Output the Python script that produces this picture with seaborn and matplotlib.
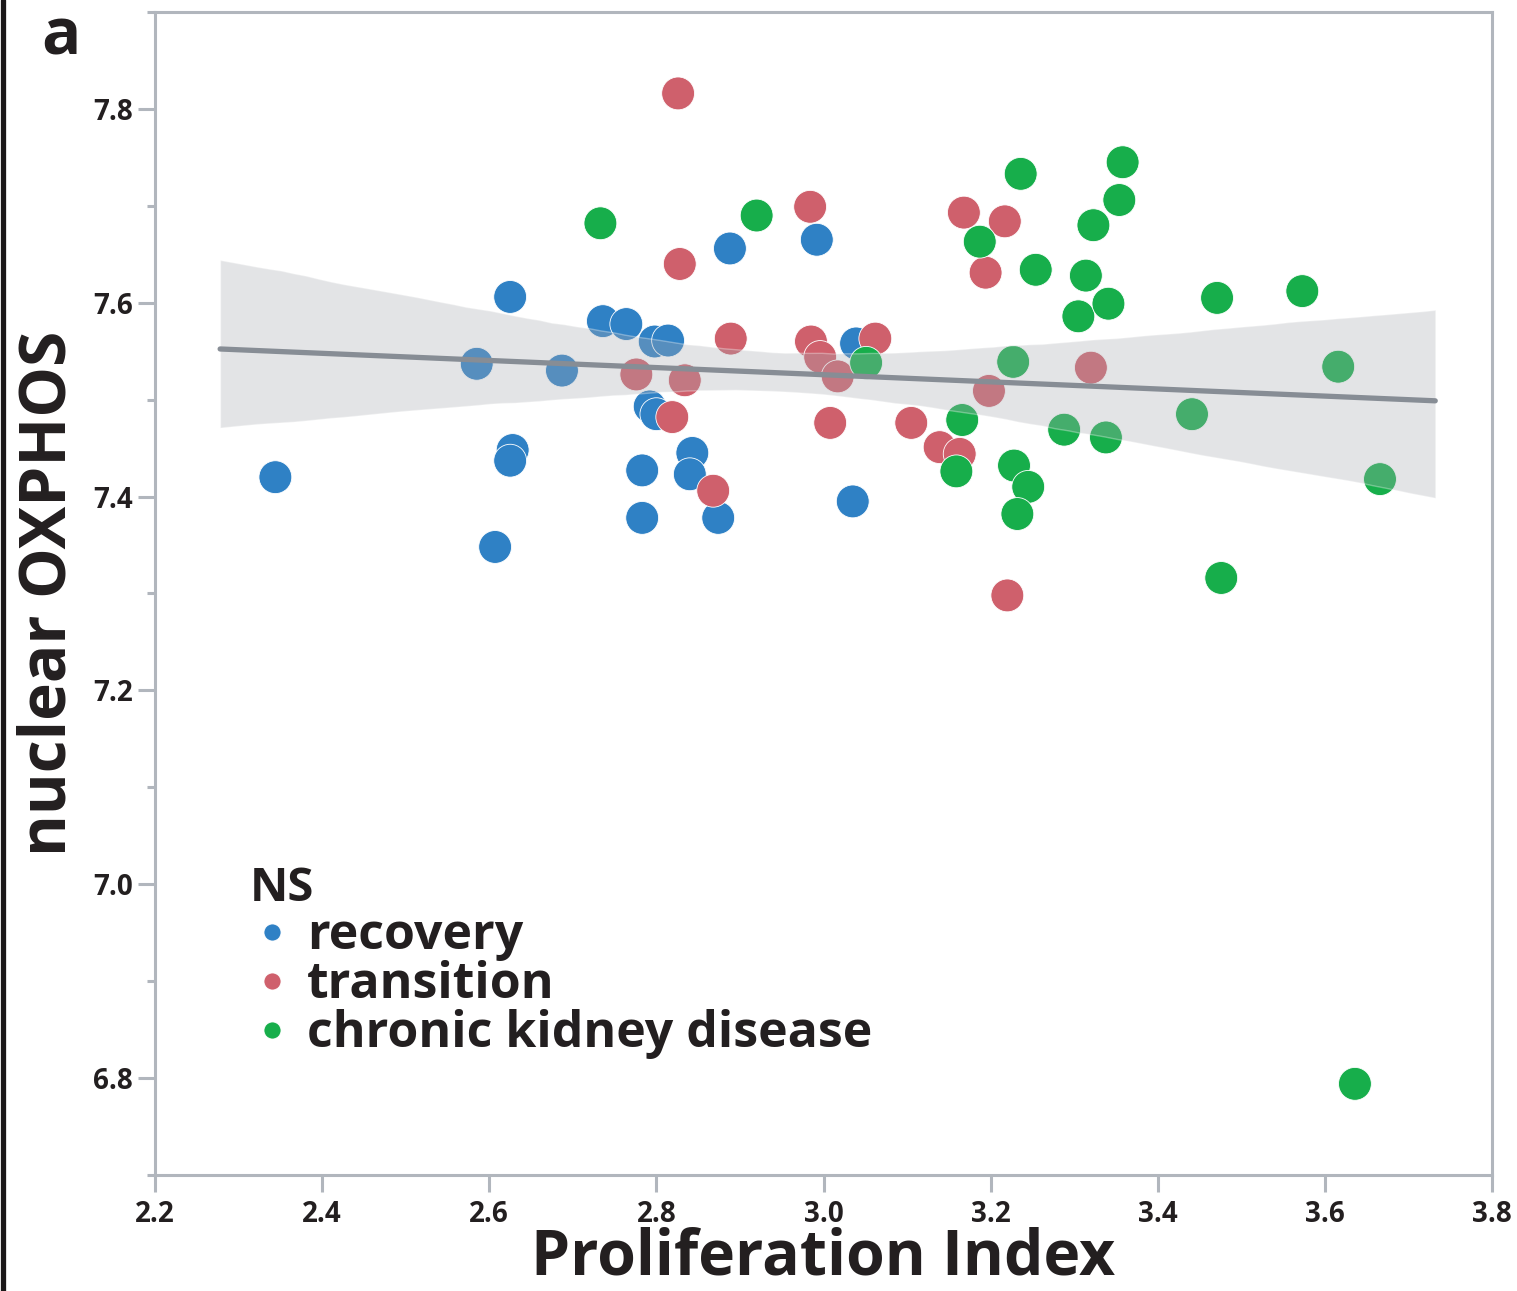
"""Nuclear OXPHOS vs proliferation index, coloured by NS group."""

import matplotlib.pyplot as plt
import pandas as pd
import seaborn as sns
from matplotlib.lines import Line2D
from matplotlib.ticker import MultipleLocator

recovery_x = [2.344, 2.607, 2.625, 2.628, 2.625, 2.585, 2.687, 2.736, 2.764, 2.798, 2.814,
              2.792, 2.800, 2.783, 2.783, 2.843, 2.840, 2.874, 2.888, 2.992, 3.039, 3.035]
recovery_y = [7.420, 7.348, 7.606, 7.448, 7.437, 7.537, 7.530, 7.581, 7.578, 7.560, 7.561,
              7.493, 7.485, 7.427, 7.378, 7.445, 7.423, 7.378, 7.656, 7.665, 7.558, 7.395]

transition_x = [2.826, 2.828, 2.889, 2.776, 2.834, 2.819, 2.868, 2.984, 2.985, 2.996, 3.017,
                3.008, 3.062, 3.105, 3.139, 3.163, 3.168, 3.217, 3.194, 3.198, 3.220, 3.320]
transition_y = [7.816, 7.640, 7.563, 7.526, 7.520, 7.482, 7.406, 7.699, 7.560, 7.544, 7.524,
                7.476, 7.563, 7.476, 7.451, 7.444, 7.693, 7.684, 7.631, 7.509, 7.298, 7.533]

ckd_x = [2.733, 2.920, 3.051, 3.166, 3.159, 3.187, 3.236, 3.227, 3.228, 3.245, 3.232, 3.254,
         3.288, 3.305, 3.314, 3.323, 3.341, 3.338, 3.354, 3.358, 3.441, 3.471, 3.476, 3.573,
         3.616, 3.666, 3.636]
ckd_y = [7.682, 7.690, 7.538, 7.479, 7.426, 7.663, 7.733, 7.539, 7.432, 7.410, 7.382, 7.634,
         7.469, 7.586, 7.628, 7.680, 7.599, 7.461, 7.706, 7.745, 7.485, 7.605, 7.316, 7.612,
         7.534, 7.418, 6.794]

groups = ["recovery", "transition", "chronic kidney disease"]
palette = {"recovery": "#2f81c5", "transition": "#cf606c", "chronic kidney disease": "#17ae4b"}

TEXT = "#231f20"
SPINE = "#b1b6bd"

df = pd.concat([
    pd.DataFrame({"x": recovery_x, "y": recovery_y, "NS": groups[0]}),
    pd.DataFrame({"x": transition_x, "y": transition_y, "NS": groups[1]}),
    pd.DataFrame({"x": ckd_x, "y": ckd_y, "NS": groups[2]}),
], ignore_index=True)

sns.set_style("white")
plt.rcParams["font.family"] = ["Open Sans", "DejaVu Sans"]

fig = plt.figure(figsize=(15.17, 12.91), dpi=100)
ax = fig.add_axes([0.1022, 0.0899, 0.8813, 0.9008])

sns.scatterplot(data=df, x="x", y="y", hue="NS", hue_order=groups, palette=palette,
                s=560, linewidth=0.6, edgecolor="white", alpha=1, ax=ax, zorder=1)

# regression over the autoscaled x range, band drawn on top of the points
sns.regplot(data=df, x="x", y="y", scatter=False, truncate=False, ci=85, seed=3,
            color="#878d95", line_kws={"linewidth": 3.8, "zorder": 3}, ax=ax)
band = ax.collections[-1]
band.set_facecolor("#a9acb2")
band.set_alpha(0.32)
band.set_zorder(2)

ax.set_xlim(2.2, 3.8)
ax.set_ylim(6.7, 7.9)
ax.xaxis.set_major_locator(MultipleLocator(0.2))
ax.yaxis.set_major_locator(MultipleLocator(0.2))
ax.yaxis.set_minor_locator(MultipleLocator(0.1))

for spine in ax.spines.values():
    spine.set_color(SPINE)
    spine.set_linewidth(2.2)

ax.tick_params(axis="both", which="major", length=12, width=2.2, color=SPINE,
               labelsize=20, labelcolor=TEXT, direction="out")
ax.tick_params(axis="y", which="minor", length=6, width=2.2, color=SPINE, left=True)
ax.tick_params(axis="y", which="major", pad=4, left=True)
ax.tick_params(axis="x", which="major", pad=6, bottom=True)
for lab in ax.get_xticklabels() + ax.get_yticklabels():
    lab.set_fontweight("bold")

ax.set_xlabel("Proliferation Index", fontsize=45, fontweight="bold", color=TEXT, labelpad=-2)
ax.set_ylabel("nuclear OXPHOS", fontsize=46, fontweight="bold", color=TEXT, labelpad=8)

handles, labels = ax.get_legend_handles_labels()
leg = ax.legend(handles, labels, title="NS", loc="upper left",
                bbox_to_anchor=(0.052, 0.288), frameon=False, fontsize=36,
                title_fontsize=34, markerscale=0.52, labelspacing=-0.02,
                handletextpad=0.25, handlelength=0.9, borderpad=0)
leg._legend_box.align = "left"
leg.get_title().set_fontweight("bold")
leg.get_title().set_color(TEXT)
for t in leg.get_texts():
    t.set_fontweight("bold")
    t.set_color(TEXT)

fig.text(0.027, 0.958, "a", fontsize=47, fontweight="bold", color=TEXT)
fig.add_artist(Line2D([0.0018, 0.0018], [0, 1], color="#1a1718", linewidth=3.8,
                      transform=fig.transFigure))

fig.savefig("out.png", dpi=100)
